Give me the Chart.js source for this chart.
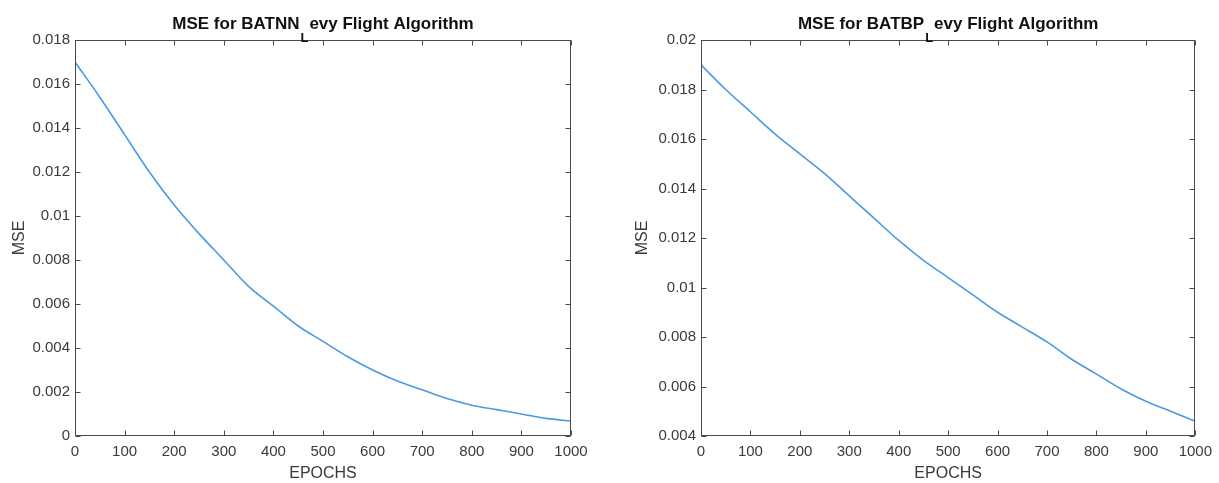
<!DOCTYPE html>
<html>
<head>
<meta charset="utf-8">
<script src="https://cdn.jsdelivr.net/npm/chart.js@4.4.1/dist/chart.umd.min.js"></script>
<style>
  html, body { margin: 0; padding: 0; background: #ffffff; }
  #wrap { position: relative; width: 1219px; height: 483px; overflow: hidden; background: #fff; }
  .panel { position: absolute; top: 0; height: 483px; }
  #p1 { left: 0; width: 610px; }
  #p2 { left: 610px; width: 609px; }
</style>
</head>
<body>
<div id="wrap">
  <div class="panel" id="p1"><canvas id="c1" width="610" height="483"></canvas></div>
  <div class="panel" id="p2"><canvas id="c2" width="609" height="483"></canvas></div>
</div>
<script>
// ---------------- data ----------------
const epochs = [0, 50, 100, 150, 200, 250, 300, 350, 400, 450, 500, 550, 600, 650, 700, 750, 800, 850, 900, 950, 1000];
const mseNN = [0.0170, 0.0154, 0.0137, 0.0120, 0.0105, 0.0092, 0.0080, 0.0068, 0.0059, 0.0050, 0.0043, 0.0036, 0.0030, 0.0025, 0.0021, 0.0017, 0.0014, 0.0012, 0.0010, 0.0008, 0.00068];
const mseBP = [0.0190, 0.0180, 0.0171, 0.0162, 0.0154, 0.0146, 0.0137, 0.0128, 0.0119, 0.0111, 0.0104, 0.0097, 0.0090, 0.0084, 0.0078, 0.0071, 0.0065, 0.0059, 0.0054, 0.0050, 0.0046];
const xTicks = [0, 100, 200, 300, 400, 500, 600, 700, 800, 900, 1000];
const yTicksNN = [0, 0.002, 0.004, 0.006, 0.008, 0.01, 0.012, 0.014, 0.016, 0.018];
const yTicksBP = [0.004, 0.006, 0.008, 0.01, 0.012, 0.014, 0.016, 0.018, 0.02];
const titleNN = ['MSE for BATNN', 'L', 'evy Flight Algorithm'];
const titleBP = ['MSE for BATBP', 'L', 'evy Flight Algorithm'];
const xLabel = 'EPOCHS';
const yLabel = 'MSE';

// ---------------- styling ----------------
const FONT = '"Liberation Sans", Arial, Helvetica, sans-serif';
const AXIS_COLOR = '#4a4a4a';
const TEXT_COLOR = '#3a3a3a';
const LINE_COLOR = '#4a9ae0';

const fmt = v => String(Number(v.toFixed(4)));

// box + inward ticks on all four sides
const boxPlugin = {
  id: 'matBox',
  afterDatasetsDraw(chart) {
    const { ctx, chartArea: a, scales: { x, y } } = chart;
    const L = Math.round(a.left) + 0.5, R = Math.round(a.right) - 0.5;
    const T = Math.round(a.top) + 0.5, B = Math.round(a.bottom) - 0.5;
    const len = 5;
    ctx.save();
    ctx.strokeStyle = AXIS_COLOR;
    ctx.lineWidth = 1;
    ctx.strokeRect(L, T, R - L, B - T);
    ctx.beginPath();
    x.ticks.forEach(t => {
      const px = Math.round(x.getPixelForValue(t.value)) + 0.5;
      ctx.moveTo(px, B); ctx.lineTo(px, B - len);
      ctx.moveTo(px, T); ctx.lineTo(px, T + len);
    });
    y.ticks.forEach(t => {
      const py = Math.round(y.getPixelForValue(t.value)) + 0.5;
      ctx.moveTo(L, py); ctx.lineTo(L + len, py);
      ctx.moveTo(R, py); ctx.lineTo(R - len, py);
    });
    ctx.stroke();
    ctx.restore();
  }
};

// title with a subscript part
const subTitlePlugin = {
  id: 'subTitle',
  afterDraw(chart, args, opts) {
    const parts = opts.parts;
    if (!parts) return;
    const { ctx, chartArea: a } = chart;
    ctx.save();
    const mainFont = 'bold 17px ' + FONT;
    const subFont = 'bold 13px ' + FONT;
    ctx.font = mainFont; const w1 = ctx.measureText(parts[0]).width;
    const w3 = ctx.measureText(parts[2]).width;
    ctx.font = subFont; const w2 = ctx.measureText(parts[1]).width;
    const total = w1 + w2 + w3 + 2;
    let x0 = (a.left + a.right) / 2 - total / 2;
    const base = 29;
    ctx.fillStyle = '#111111';
    ctx.textBaseline = 'alphabetic';
    ctx.textAlign = 'left';
    ctx.font = mainFont; ctx.fillText(parts[0], x0, base);
    ctx.font = subFont; ctx.fillText(parts[1], x0 + w1 + 1, base + 13);
    ctx.font = mainFont; ctx.fillText(parts[2], x0 + w1 + w2 + 2, base);
    ctx.restore();
  }
};

function makeChart(canvasId, values, yTicks, yMin, yMax, parts, yAxisWidth, padRight, yTitlePad) {
  return new Chart(document.getElementById(canvasId), {
    type: 'line',
    data: {
      datasets: [{
        data: epochs.map((e, i) => ({ x: e, y: values[i] })),
        borderColor: LINE_COLOR,
        borderWidth: 1.6,
        pointRadius: 0,
        cubicInterpolationMode: 'monotone',
        fill: false
      }]
    },
    options: {
      responsive: false,
      animation: false,
      devicePixelRatio: 1,
      layout: { padding: { left: 0, right: padRight, top: 40, bottom: 0 } },
      plugins: {
        legend: { display: false },
        tooltip: { enabled: false },
        title: { display: false },
        subTitle: { parts: parts }
      },
      scales: {
        x: {
          type: 'linear',
          min: 0, max: 1000,
          afterBuildTicks: s => { s.ticks = xTicks.map(v => ({ value: v })); },
          afterFit: s => { s.height = 47; },
          grid: { display: false, drawTicks: false },
          border: { display: false },
          ticks: {
            padding: 7,
            color: TEXT_COLOR,
            font: { family: FONT, size: 15 },
            maxRotation: 0,
            autoSkip: false,
            callback: v => fmt(v)
          },
          title: {
            display: true, text: xLabel, color: TEXT_COLOR,
            font: { family: FONT, size: 16 },
            padding: { top: 0, bottom: 0 }
          }
        },
        y: {
          type: 'linear',
          min: yMin, max: yMax,
          afterBuildTicks: s => { s.ticks = yTicks.map(v => ({ value: v })); },
          afterFit: s => { s.width = yAxisWidth; },
          grid: { display: false, drawTicks: false },
          border: { display: false },
          ticks: {
            padding: 5,
            color: TEXT_COLOR,
            font: { family: FONT, size: 15 },
            autoSkip: false,
            callback: v => fmt(v)
          },
          title: {
            display: true, text: yLabel, color: TEXT_COLOR,
            font: { family: FONT, size: 16 },
            padding: { top: yTitlePad, bottom: 0 }
          }
        }
      }
    },
    plugins: [boxPlugin, subTitlePlugin]
  });
}

makeChart('c1', mseNN, yTicksNN, 0, 0.018, titleNN, 75, 39, 9.5);
makeChart('c2', mseBP, yTicksBP, 0.004, 0.02, titleBP, 91, 22, 23);
</script>
</body>
</html>
